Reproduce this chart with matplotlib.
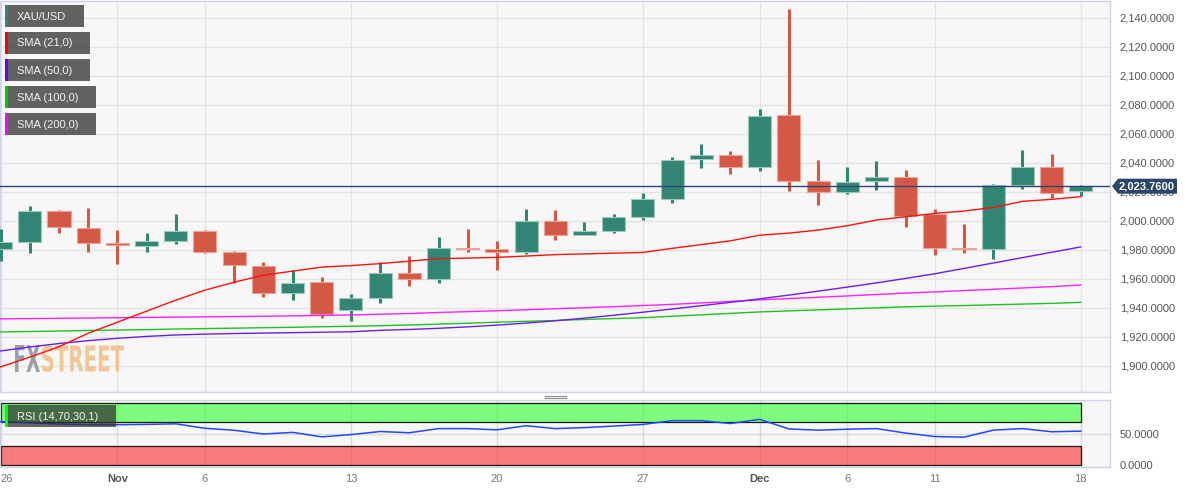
import matplotlib
matplotlib.use('Agg')
import matplotlib.pyplot as plt
from matplotlib.patches import Rectangle, Polygon, PathPatch
from matplotlib.textpath import TextPath
from matplotlib.font_manager import FontProperties
from matplotlib.transforms import Affine2D, IdentityTransform
from matplotlib.lines import Line2D
import numpy as np

# ---------------- data ----------------
dates = ['Oct 26', 'Oct 27', 'Oct 30', 'Oct 31', 'Nov 1', 'Nov 2', 'Nov 3',
         'Nov 6', 'Nov 7', 'Nov 8', 'Nov 9', 'Nov 10',
         'Nov 13', 'Nov 14', 'Nov 15', 'Nov 16', 'Nov 17',
         'Nov 20', 'Nov 21', 'Nov 22', 'Nov 23', 'Nov 24',
         'Nov 27', 'Nov 28', 'Nov 29', 'Nov 30', 'Dec 1',
         'Dec 4', 'Dec 5', 'Dec 6', 'Dec 7', 'Dec 8',
         'Dec 11', 'Dec 12', 'Dec 13', 'Dec 14', 'Dec 15', 'Dec 18']

opens = [1980.3, 1985.1, 2006.9, 1995.2, 1984.4, 1982.8, 1986.2,
         1992.7, 1978.2, 1969.0, 1949.9, 1957.5,
         1938.3, 1946.7, 1964.1, 1959.6, 1981.4,
         1980.9, 1978.2, 1999.6, 1990.1, 1992.7,
         2002.8, 2014.8, 2042.3, 2045.5, 2037.2,
         2073.1, 2027.2, 2020.0, 2027.2, 2030.1,
         2004.4, 1981.4, 1980.3, 2024.4, 2037.0, 2020.3]
highs = [1994.1, 2010.1, 2007.2, 2008.6, 1993.6, 1991.3, 2004.4,
         1993.6, 1979.1, 1971.5, 1966.0, 1961.0,
         1949.4, 1971.3, 1975.7, 1988.6, 1994.1,
         1986.0, 2007.9, 2007.2, 1998.9, 2004.6,
         2019.1, 2043.9, 2052.6, 2047.8, 2076.8,
         2145.8, 2042.1, 2036.8, 2041.0, 2034.8,
         2008.3, 1997.5, 2025.3, 2048.8, 2045.8, 2024.4]
lows = [1972.2, 1977.5, 1991.3, 1978.6, 1969.9, 1978.6, 1983.7,
        1977.5, 1956.8, 1947.6, 1945.3, 1932.7,
        1931.0, 1943.4, 1955.4, 1956.8, 1978.6,
        1966.0, 1977.2, 1986.9, 1990.1, 1991.7,
        2000.7, 2012.0, 2036.1, 2032.6, 2034.5,
        2020.7, 2010.6, 2018.2, 2021.0, 1995.4,
        1976.1, 1977.5, 1973.4, 2022.1, 2015.9, 2016.8]
closes = [1985.1, 2006.9, 1995.4, 1984.4, 1983.2, 1986.2, 1992.7,
          1978.2, 1969.2, 1949.9, 1957.2, 1936.1,
          1946.7, 1963.9, 1959.6, 1981.2, 1980.3,
          1978.2, 1999.6, 1990.3, 1992.7, 2002.8,
          2015.0, 2041.9, 2045.3, 2037.2, 2072.0,
          2027.2, 2020.0, 2026.9, 2029.9, 2003.2,
          1981.4, 1980.3, 2024.6, 2037.2, 2018.9, 2023.76]

sma21 = [1899.3, 1906.0, 1913.2, 1922.5, 1930.1, 1937.7, 1945.3,
         1952.2, 1957.7, 1962.5, 1965.3, 1968.1,
         1969.1, 1970.5, 1972.2, 1973.9, 1974.3,
         1974.8, 1975.7, 1976.7, 1977.2, 1977.7,
         1978.2, 1981.0, 1983.6, 1986.2, 1990.1,
         1991.5, 1993.6, 1996.6, 2000.5, 2002.8,
         2005.1, 2006.7, 2009.2, 2013.4, 2014.8, 2016.6]
sma50 = [1910.3, 1913.0, 1915.4, 1917.4, 1919.0, 1920.3, 1921.3,
         1921.9, 1922.3, 1922.6, 1922.9, 1923.2,
         1923.5, 1924.5, 1925.1, 1925.9, 1926.9,
         1928.1, 1929.5, 1931.1, 1932.9, 1934.9,
         1937.0, 1939.2, 1941.5, 1943.8, 1946.2,
         1948.8, 1951.5, 1954.3, 1957.2, 1960.3,
         1963.5, 1967.2, 1970.9, 1974.6, 1978.3, 1982.0]
sma100 = [1923.4, 1923.7, 1924.0, 1924.4, 1924.7, 1925.0, 1925.4,
          1925.7, 1926.0, 1926.3, 1926.6, 1927.0,
          1927.3, 1927.7, 1928.2, 1928.8, 1929.4,
          1930.1, 1930.7, 1931.3, 1932.0, 1932.6,
          1933.2, 1934.2, 1935.2, 1936.2, 1937.2,
          1937.9, 1938.6, 1939.3, 1940.0, 1940.7,
          1941.2, 1941.6, 1942.1, 1942.6, 1943.1, 1943.8]
sma200 = [1932.4, 1932.6, 1932.8, 1933.0, 1933.2, 1933.4, 1933.6,
          1933.8, 1934.0, 1934.2, 1934.5, 1934.8,
          1935.1, 1935.6, 1936.1, 1936.8, 1937.4,
          1938.0, 1938.7, 1939.4, 1940.1, 1940.8,
          1941.6, 1942.4, 1943.4, 1944.4, 1945.5,
          1946.4, 1947.3, 1948.2, 1949.2, 1950.2,
          1951.0, 1951.9, 1952.8, 1953.7, 1954.6, 1955.8]
rsi = [70.0, 68.0, 66.0, 65.0, 65.0, 65.5, 66.4,
       59.2, 56.0, 50.0, 52.6, 45.4,
       49.0, 54.0, 52.0, 58.7, 58.7,
       56.7, 63.3, 58.7, 60.3, 62.8,
       65.4, 71.5, 71.5, 66.9, 73.6,
       58.2, 56.2, 57.7, 58.7, 51.5,
       45.9, 44.9, 56.2, 58.7, 53.6, 54.6]

tick_dates = ['Oct 26', 'Nov 1', 'Nov 6', 'Nov 13', 'Nov 20', 'Nov 27',
              'Dec 1', 'Dec 6', 'Dec 11', 'Dec 18']
tick_labels = ['26', 'Nov', '6', '13', '20', '27', 'Dec', '6', '11', '18']
price_ticks = [1900, 1920, 1940, 1960, 1980, 2000, 2020, 2040, 2060,
               2080, 2100, 2120, 2140]
last_price = 2023.76

legend_items = ['XAU/USD', 'SMA (21,0)', 'SMA (50,0)', 'SMA (100,0)', 'SMA (200,0)']

# ---------------- style ----------------
plt.rcParams['font.family'] = ['Liberation Sans', 'DejaVu Sans']
W, H = 1194, 492
UP = '#338573'
DOWN = '#d35845'
UP_EDGE = '#9cc8bd'
DOWN_EDGE = '#eba498'
BG = '#f7f7f7'
GRID = '#e4e4e4'
SPINE = '#cdd3e6'
C21, C50, C100, C200 = '#ff1010', '#6a1ee6', '#22c022', '#ff20ff'
NAVY = '#2c4669'

fig = plt.figure(figsize=(W / 100, H / 100), dpi=100)
fig.patch.set_facecolor('white')


def fx(x):
    return x / W


def fy(y):
    return 1 - y / H


ax = fig.add_axes([0, fy(392), fx(1110), (392 - 1) / H])
ax2 = fig.add_axes([0, fy(467), fx(1110), (467 - 400) / H])

n = len(dates)
xs = np.arange(n)
tick_idx = [dates.index(d) for d in tick_dates]

for a in (ax, ax2):
    a.set_facecolor(BG)
    a.set_xlim(-0.02, 38.0)
    for s in a.spines.values():
        s.set_color(SPINE)
        s.set_linewidth(1.0)
    a.yaxis.tick_right()
    a.tick_params(axis='both', length=0, labelsize=8, colors='#555555')
    for t in tick_idx:
        a.axvline(t, color=GRID, lw=1.0, zorder=0.5)

# ---------------- main panel ----------------
ax.set_ylim(1882.0, 2151.5)
ax.set_yticks(price_ticks)
ax.set_yticklabels(['{:,.4f}'.format(v) for v in price_ticks])
ax.tick_params(axis='y', pad=7)
ax.set_xticks([])
for v in price_ticks:
    ax.axhline(v, color=GRID, lw=1.0, zorder=0.5)

# watermark
fp = FontProperties(family='DejaVu Sans', weight='bold')


def watermark(s, x0, x1, ytop, ybot, color, alpha):
    tp = TextPath((0, 0), s, size=1, prop=fp)
    ext = tp.get_extents()
    sx = (x1 - x0) / ext.width
    sy = (ybot - ytop) / ext.height
    tr = Affine2D().translate(-ext.x0, -ext.y0).scale(sx, sy).translate(x0, H - ybot)
    ax.add_patch(PathPatch(tr.transform_path(tp), facecolor=color, edgecolor='none',
                           alpha=alpha, transform=IdentityTransform(), zorder=1))


watermark('FX', 15, 40, 345, 372, '#8b9099', 0.85)
watermark('STREET', 42, 124, 345, 372, '#f0bf86', 0.85)

# candles
for i in range(n):
    o, h, l, c = opens[i], highs[i], lows[i], closes[i]
    up = c >= o
    col = UP if up else DOWN
    ec = UP_EDGE if up else DOWN_EDGE
    ax.vlines(xs[i], l, h, color=col, lw=2.2, zorder=3)
    bot = min(o, c)
    ht = max(abs(c - o), 1.1)
    ax.bar(xs[i], ht, bottom=bot, width=0.79, color=col, edgecolor=ec,
           linewidth=0.8, zorder=3.5)

# SMAs
ax.plot(xs, sma200, color=C200, lw=1.0, zorder=4)
ax.plot(xs, sma100, color=C100, lw=1.0, zorder=4)
ax.plot(xs, sma50, color=C50, lw=1.0, zorder=4)
ax.plot(xs, sma21, color=C21, lw=1.0, zorder=4)

# last price line
ax.axhline(last_price, color=NAVY, lw=1.0, zorder=5)

# ---------------- RSI panel ----------------
ax2.set_ylim(-3.2, 104.8)
ax2.set_yticks([0, 50])
ax2.set_yticklabels(['0.0000', '50.0000'])
ax2.tick_params(axis='y', pad=7)
ax2.axhline(50, color='#dcdcdc', lw=1.0, zorder=0.6)
ax2.add_patch(Rectangle((0, 70), 37, 30, facecolor='#7dfc7d', edgecolor='#1a1a1a',
                        lw=0.9, zorder=1))
ax2.add_patch(Rectangle((0, 0), 37, 30, facecolor='#fa7b7b', edgecolor='#1a1a1a',
                        lw=0.9, zorder=1))
for t in tick_idx:
    ax2.axvline(t, color='#000000', alpha=0.05, lw=1.0, zorder=1.5)
ax2.plot(xs, rsi, color='#2346ff', lw=1.1, zorder=3)
ax2.set_xticks(tick_idx)
ax2.set_xticklabels(tick_labels)
ax2.tick_params(axis='x', pad=5, colors='#777777')
for lbl in ax2.get_xticklabels():
    if lbl.get_text() in ('Nov', 'Dec'):
        lbl.set_fontweight('bold')
        lbl.set_color('#555555')
    if lbl.get_text() == '26':
        lbl.set_horizontalalignment('left')

# ---------------- overlays (figure pixel coords) ----------------
def fig_rect(x0, y0, x1, y1, color, alpha=1.0, z=10):
    fig.add_artist(Rectangle((fx(x0), fy(y1)), fx(x1) - fx(x0), fy(y0) - fy(y1),
                             transform=fig.transFigure, facecolor=color,
                             edgecolor='none', alpha=alpha, zorder=z))


legend_colors = [UP, '#ff0000', '#6a00ff', '#00cc00', '#ff00ff']
legend_right = [84, 90, 90, 96, 96]
legend_tops = [5, 32, 59, 86, 113]
for name, col, xr, yt in zip(legend_items, legend_colors, legend_right, legend_tops):
    fig_rect(5, yt, xr, yt + 22, '#303030', 0.75)
    fig_rect(5, yt, 8, yt + 22, col, 1.0, 11)
    fig.text(fx(17), fy(yt + 11.5), name, color='#f2f2f2', fontsize=8,
             ha='left', va='center', zorder=12)

# RSI legend
fig_rect(5, 405, 116, 427, '#303030', 0.72)
fig_rect(5, 405, 8, 427, '#00ff00', 1.0, 11)
fig.text(fx(17), fy(416.5), 'RSI (14,70,30,1)', color='#f2f2f2', fontsize=8,
         ha='left', va='center', zorder=12)

# last price tag
py = 186.2
tag = [(fx(1112), fy(py)), (fx(1118), fy(py - 7.5)), (fx(1177), fy(py - 7.5)),
       (fx(1177), fy(py + 7.5)), (fx(1118), fy(py + 7.5))]
fig.add_artist(Polygon(tag, closed=True, transform=fig.transFigure,
                       facecolor=NAVY, edgecolor='none', zorder=10))
fig.text(fx(1147), fy(py + 0.5), '{:,.4f}'.format(last_price), color='white',
         fontsize=8, fontweight='bold', ha='center', va='center', zorder=11)

# separator handle
for yy in (395.5, 398.0):
    fig.add_artist(Line2D([fx(545), fx(566)], [fy(yy), fy(yy)],
                          transform=fig.transFigure, color='#888888', lw=0.8))

fig.savefig('out.png', dpi=100, facecolor='white')
